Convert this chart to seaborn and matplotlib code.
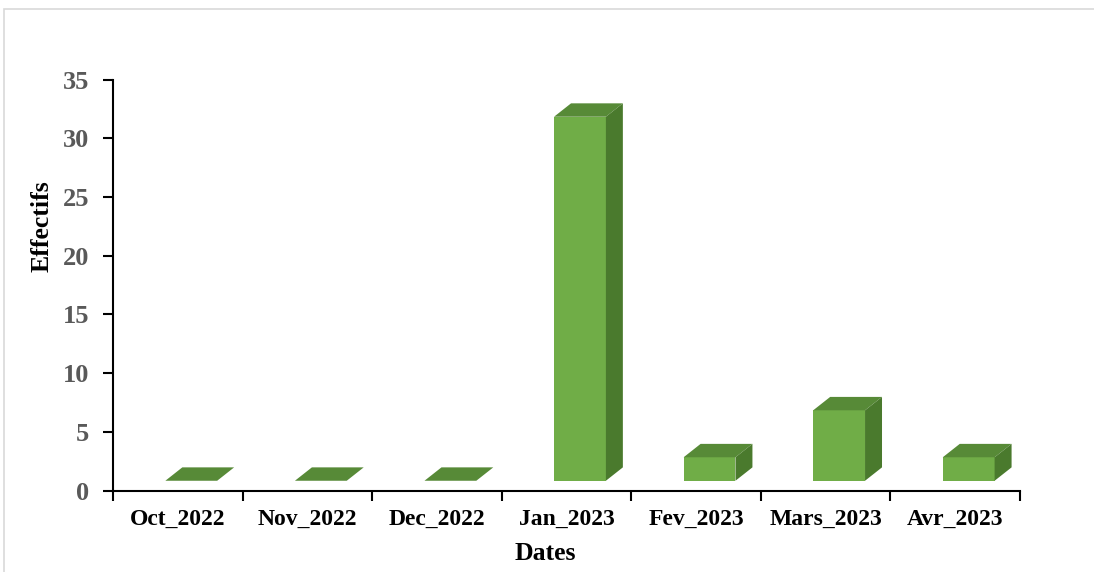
import matplotlib
matplotlib.use("Agg")
import matplotlib.pyplot as plt
import seaborn as sns
import pandas as pd
from matplotlib.patches import Polygon, Rectangle

categories = ["Oct_2022", "Nov_2022", "Dec_2022", "Jan_2023", "Fev_2023", "Mars_2023", "Avr_2023"]
values = [0, 0, 0, 31, 2, 6, 2]
y_ticks = [0, 5, 10, 15, 20, 25, 30, 35]

df = pd.DataFrame({"Dates": categories, "Effectifs": values})

sns.set_style("white")
plt.rcParams["font.family"] = ["Liberation Serif", "DejaVu Serif"]
plt.rcParams["font.weight"] = "bold"

front_c = "#70AD47"
top_c = "#578A37"
side_c = "#4A7A2D"

fig = plt.figure(figsize=(10.94, 5.72), dpi=100)
ax = fig.add_axes([113 / 1094, 1 - 490.5 / 572, (1020 - 113) / 1094, (490.5 - 79.5) / 572])

sns.barplot(data=df, x="Dates", y="Effectifs", color=front_c, width=0.40,
            saturation=1, ax=ax, linewidth=0)

base = 0.83
shift = 0.104
dx = 0.131
dy = 1.14
for p in ax.patches:
    p.set_y(base)
    p.set_x(p.get_x() + shift)
    x0, w, y0, h = p.get_x(), p.get_width(), p.get_y(), p.get_height()
    top = Polygon([(x0, y0 + h), (x0 + w, y0 + h), (x0 + w + dx, y0 + h + dy), (x0 + dx, y0 + h + dy)],
                  closed=True, facecolor=top_c, edgecolor="none", zorder=3)
    ax.add_patch(top)
    if h > 0:
        side = Polygon([(x0 + w, y0), (x0 + w + dx, y0 + dy), (x0 + w + dx, y0 + h + dy), (x0 + w, y0 + h)],
                       closed=True, facecolor=side_c, edgecolor="none", zorder=3)
        ax.add_patch(side)
    p.set_zorder(3)

ax.set_xlim(-0.5, len(categories) - 0.5)
ax.set_ylim(0, 35)
ax.set_yticks(y_ticks)
ax.set_yticklabels([str(t) for t in y_ticks])
ax.set_xticks(range(len(categories)))
ax.set_xticklabels(categories)
ax.set_xticks([i - 0.5 for i in range(len(categories) + 1)], minor=True)

for s in ["top", "right"]:
    ax.spines[s].set_visible(False)
for s in ["left", "bottom"]:
    ax.spines[s].set_color("black")
    ax.spines[s].set_linewidth(1.5)

ax.tick_params(axis="y", which="major", direction="out", length=7, width=1.5,
               color="black", labelsize=19, labelcolor="#595959", pad=10, left=True)
ax.tick_params(axis="x", which="major", length=0, labelsize=17, labelcolor="black", pad=13)
ax.tick_params(axis="x", which="minor", direction="out", length=7, width=1.5, color="black", bottom=True)
for lbl in ax.get_xticklabels() + ax.get_yticklabels():
    lbl.set_fontweight("bold")

ax.set_xlabel("")
ax.set_ylabel("")
fig.text(42 / 1094, 1 - 226 / 572, "Effectifs", rotation=90, ha="center", va="center",
         fontsize=18.5, fontweight="bold", color="black")
fig.text(545 / 1094, 1 - 553 / 572, "Dates", ha="center", va="center",
         fontsize=18.5, fontweight="bold", color="black")

fig.patches.append(Rectangle((4 / 1094, -0.1), 1.2, 1.1 - 9 / 572, transform=fig.transFigure,
                             fill=False, edgecolor="#D9D9D9", linewidth=1.2, zorder=0))

fig.savefig("out.png", dpi=100)
